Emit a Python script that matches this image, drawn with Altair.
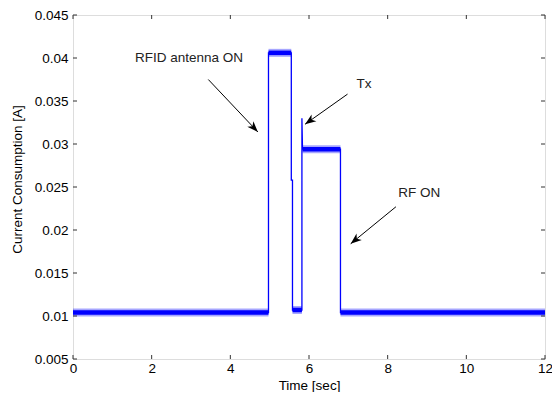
import math
import altair as alt
import pandas as pd

# ---- data ----
time_s = [0.0, 4.97, 4.97, 5.55, 5.55, 5.58, 5.58, 5.82, 5.82, 5.835, 6.80, 6.80, 12.0]
current_a = [0.0104, 0.0104, 0.0406, 0.0406, 0.0258, 0.0258, 0.0107, 0.0107, 0.0330, 0.0294, 0.0294, 0.0104, 0.0104]

# noisy plateaus (drawn as a thick band)
band_start = [0.0, 4.97, 5.58, 5.835, 6.80]
band_end = [4.97, 5.55, 5.82, 6.80, 12.0]
band_level = [0.0104, 0.0406, 0.0107, 0.0294, 0.0104]

labels = ["RFID antenna ON", "Tx", "RF ON"]
label_x = [2.95, 7.40, 8.80]
label_y = [0.0400, 0.0370, 0.0243]
arrow_x0 = [3.44, 6.98, 8.21]
arrow_y0 = [0.0375, 0.0358, 0.0227]
arrow_x1 = [4.70, 5.90, 7.06]
arrow_y1 = [0.0314, 0.0323, 0.0184]

x_ticks = [0, 2, 4, 6, 8, 10, 12]
y_ticks = [0.005, 0.01, 0.015, 0.02, 0.025, 0.03, 0.035, 0.04, 0.045]

W, H = 472, 344
PAD_L = 65
XMIN, XMAX = 0, 12
YMIN, YMAX = 0.005, 0.045
FONT = "Liberation Sans"
TXT = "#222222"
FS = 13.5

trace = pd.DataFrame({"t": time_s, "i": current_a, "k": list(range(len(time_s)))})
bands = pd.DataFrame({"t0": band_start, "t1": band_end, "i": band_level})

angles = []
for a, b, c, d in zip(arrow_x0, arrow_y0, arrow_x1, arrow_y1):
    dx = (c - a) * W / (XMAX - XMIN)
    dy = -(d - b) * H / (YMAX - YMIN)
    angles.append(math.degrees(math.atan2(dx, -dy)) % 360)

ann = pd.DataFrame({
    "label": labels, "lx": label_x, "ly": label_y,
    "x0": arrow_x0, "y0": arrow_y0, "x1": arrow_x1, "y1": arrow_y1,
    "ang": angles,
})

xs = alt.Scale(domain=[XMIN, XMAX], nice=False, zero=False)
ys = alt.Scale(domain=[YMIN, YMAX], nice=False, zero=False)

x_axis = alt.Axis(values=x_ticks, title="Time [sec]", grid=False, ticks=False, domain=False,
                  labelPadding=2, labelFontSize=FS, titleFontSize=FS, titleFontWeight="normal",
                  titleY=26, titleBaseline="middle", labelFlush=False)
y_axis = alt.Axis(values=y_ticks, title="Current Consumption [A]", grid=False, ticks=False, domain=False,
                  format="~g", labelPadding=5, labelFontSize=FS, titleFontSize=FS,
                  titleFontWeight="normal", titleX=17 - 8 - PAD_L, titleY=164, titleBaseline="middle",
                  labelFlush=False)

line = alt.Chart(trace).mark_line(color="#0000ff", strokeWidth=1.3, clip=True).encode(
    x=alt.X("t:Q", scale=xs, axis=x_axis),
    y=alt.Y("i:Q", scale=ys, axis=y_axis),
    order="k:Q",
)

band_halo = alt.Chart(bands).mark_rule(color="#0000ff", strokeWidth=8, strokeCap="butt", opacity=0.35).encode(
    x=alt.X("t0:Q", scale=xs), x2="t1:Q", y=alt.Y("i:Q", scale=ys)
)
band = alt.Chart(bands).mark_rule(color="#0000ff", strokeWidth=4.5, strokeCap="butt").encode(
    x=alt.X("t0:Q", scale=xs), x2="t1:Q", y=alt.Y("i:Q", scale=ys)
)

xt = pd.DataFrame({"v": x_ticks})
yt = pd.DataFrame({"v": y_ticks})
tick_style = dict(color="#333333", strokeWidth=1)
tb = alt.Chart(xt).mark_rule(**tick_style).encode(x=alt.X("v:Q", scale=xs), y=alt.value(H), y2=alt.value(H - 4))
tt = alt.Chart(xt).mark_rule(**tick_style).encode(x=alt.X("v:Q", scale=xs), y=alt.value(0), y2=alt.value(4))
tl = alt.Chart(yt).mark_rule(**tick_style).encode(y=alt.Y("v:Q", scale=ys), x=alt.value(0), x2=alt.value(4))
tr = alt.Chart(yt).mark_rule(**tick_style).encode(y=alt.Y("v:Q", scale=ys), x=alt.value(W), x2=alt.value(W - 4))

arrow_line = alt.Chart(ann).mark_rule(color="black", strokeWidth=1).encode(
    x=alt.X("x0:Q", scale=xs), y=alt.Y("y0:Q", scale=ys), x2="x1:Q", y2="y1:Q"
)
arrow_head = alt.Chart(ann).mark_point(
    shape="M0,0 L0.38,1 L0,0.72 L-0.38,1 Z", filled=True, color="black", size=480, opacity=1
).encode(
    x=alt.X("x1:Q", scale=xs), y=alt.Y("y1:Q", scale=ys), angle=alt.Angle("ang:Q", scale=None)
)
text = alt.Chart(ann).mark_text(font=FONT, fontSize=FS, color=TXT, align="center", baseline="middle").encode(
    x=alt.X("lx:Q", scale=xs), y=alt.Y("ly:Q", scale=ys), text="label:N"
)

chart = alt.layer(line, band_halo, band, tb, tt, tl, tr, arrow_line, arrow_head, text).properties(
    width=W, height=H,
    autosize=alt.AutoSizeParams(type="none"),
    padding={"left": PAD_L, "top": 7, "right": 7, "bottom": 33},
).configure_view(
    stroke="#333333", strokeWidth=1
).configure_axis(
    labelFont=FONT, titleFont=FONT, labelColor=TXT, titleColor=TXT
).configure(background="white")

chart.save("out.html", embed_options={"renderer": "svg", "actions": False})
